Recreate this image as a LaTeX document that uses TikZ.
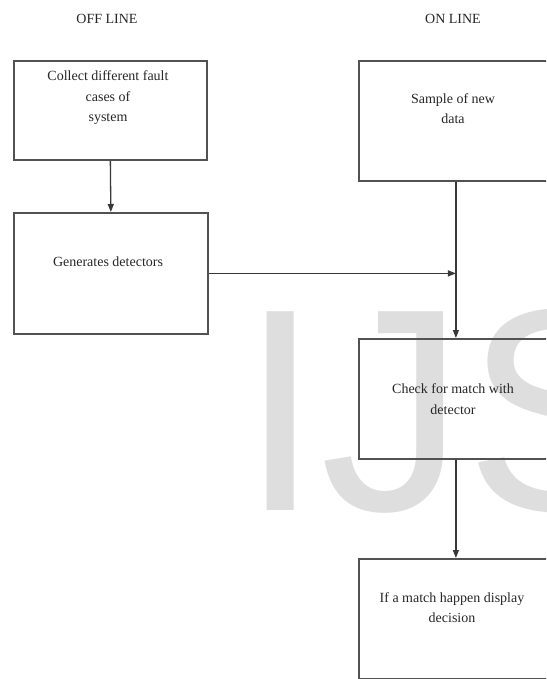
\documentclass[tikz,border=0pt]{standalone}
\usepackage{fontspec}
\setmainfont{Liberation Serif}
\newfontfamily\wmfont{Liberation Sans}
\usetikzlibrary{arrows.meta}
\begin{document}
\begin{tikzpicture}[x=1pt,y=-1pt,
  box/.style={draw=black!68, line width=1.8pt, inner sep=0pt, anchor=north west},
  txt/.style={font=\fontsize{14}{20.5}\selectfont, align=center, text=black!85, inner sep=0pt},
  arr/.style={draw=black!78, line width=1.3pt, -{Triangle[length=8pt,width=6pt]}}]
\clip (0,0) rectangle (546,679);
% watermark
\node[anchor=base west, inner sep=0pt, text=black!13,
      font=\wmfont\fontsize{289}{289}\selectfont] (wm) at (240,510) {IJS};
% titles
\node[txt] (offline) at (107,19) {OFF LINE};
\node[txt] (online) at (453,19) {ON LINE};
% boxes
\node[box, minimum width=193.5, minimum height=99] (collect) at (12.7,60) {};
\node[box, minimum width=194.5, minimum height=121] (gen) at (12.7,212) {};
\node[box, minimum width=194, minimum height=120] (sample) at (358,60) {};
\node[box, minimum width=194, minimum height=120] (check) at (358,338) {};
\node[box, minimum width=194, minimum height=120] (decide) at (358,558) {};
% texts
\node[txt] (tcollect) at (108,98) {Collect different fault\\cases of\\system};
\node[txt] (tgen) at (108,262) {Generates detectors};
\node[txt] (tsample) at (453,108.5) {Sample of new\\data};
\node[txt] (tcheck) at (453,399) {Check for match with\\detector};
\node[txt] (tdecide) at (452,607.5) {If a match happen display\\decision};
% connectors
\coordinate (join) at (sample.south |- gen.east);
\draw[arr] (collect.south) -- (gen.north);
\draw[arr] (gen.east) -- (join);
\draw[arr] (sample.south) -- (check.north);
\draw[arr] (check.south) -- (decide.north);
\end{tikzpicture}
\end{document}
